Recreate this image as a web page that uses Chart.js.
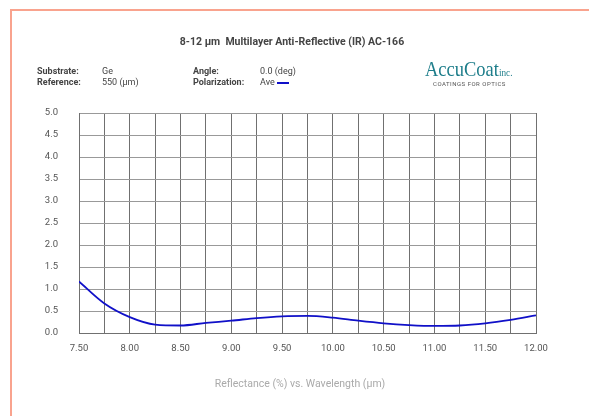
<!DOCTYPE html>
<html>
<head>
<meta charset="utf-8">
<script src="https://cdn.jsdelivr.net/npm/chart.js@4.4.1/dist/chart.umd.min.js"></script>
<style>
  html, body { margin: 0; padding: 0; background: #fff; width: 589px; height: 416px; overflow: hidden; font-family: Roboto, "Noto Sans", sans-serif; }
  #frame { position: absolute; left: 10px; top: 9px; width: 700px; height: 500px; border: 2px solid #f9a38e; box-sizing: border-box; }
  #wrap { position: absolute; left: 0; top: 0; width: 589px; height: 416px; }
  .t { position: absolute; white-space: nowrap; color: #444; font-size: 9px; }
  .b { font-weight: bold; }
  #title { position: absolute; left: 0; width: 584px; top: 35px; text-align: center; font-weight: bold; font-size: 10.5px; color: #444; }
  #xtitle { position: absolute; left: 0; width: 600px; top: 377px; text-align: center; font-size: 10.5px; color: #aaa; }
  #logo { position: absolute; left: 425px; top: 56px; font-family: "Liberation Serif", "DejaVu Serif", serif; color: #1d7d8a; font-size: 22px; white-space: nowrap; transform: scaleX(0.84); transform-origin: left top; }
  #logo small { font-size: 11px; }
  #tag { position: absolute; left: 433px; top: 80px; font-size: 6px; letter-spacing: 0.5px; color: #555; white-space: nowrap; }
  #aveline { position: absolute; left: 277px; top: 82px; width: 12px; height: 2px; background: #1010c8; }
</style>
</head>
<body>
<div id="frame"></div>
<div id="wrap"><canvas id="c" width="589" height="416"></canvas></div>
<div id="title">8-12 µm&nbsp; Multilayer Anti-Reflective (IR) AC-166</div>
<div class="t b" style="left:37px;top:66px">Substrate:</div>
<div class="t" style="left:102px;top:66px">Ge</div>
<div class="t b" style="left:37px;top:77px">Reference:</div>
<div class="t" style="left:102px;top:77px">550 (µm)</div>
<div class="t b" style="left:193px;top:66px">Angle:</div>
<div class="t" style="left:260px;top:66px">0.0 (deg)</div>
<div class="t b" style="left:193px;top:77px">Polarization:</div>
<div class="t" style="left:260px;top:77px">Ave</div>
<div id="aveline"></div>
<div id="logo">AccuCoat<small>inc.</small></div>
<div id="tag">COATINGS FOR OPTICS</div>
<div id="xtitle">Reflectance (%) vs. Wavelength (µm)</div>
<script>
const wavelengths = [7.5, 7.75, 8.0, 8.25, 8.5, 8.75, 9.0, 9.25, 9.5, 9.75, 10.0, 10.25, 10.5, 10.75, 11.0, 11.25, 11.5, 11.75, 12.0];
const reflectance = [1.17, 0.67, 0.36, 0.19, 0.17, 0.23, 0.28, 0.34, 0.38, 0.39, 0.35, 0.28, 0.22, 0.18, 0.16, 0.17, 0.22, 0.30, 0.40];
const xTicks = [7.5, 8.0, 8.5, 9.0, 9.5, 10.0, 10.5, 11.0, 11.5, 12.0];
const yTicks = [0, 0.5, 1, 1.5, 2, 2.5, 3, 3.5, 4, 4.5, 5];

const points = wavelengths.map((x, i) => ({ x: x, y: reflectance[i] }));
Chart.defaults.font.family = 'Roboto, "Noto Sans", sans-serif';

new Chart(document.getElementById('c'), {
  type: 'line',
  data: { datasets: [{ data: points, borderColor: '#1010c8', borderWidth: 1.8, pointRadius: 0, cubicInterpolationMode: 'monotone', fill: false }] },
  options: {
    responsive: false, animation: false, devicePixelRatio: 1,
    layout: { padding: { left: 0, right: 53, top: 113, bottom: 0 } },
    plugins: { legend: { display: false }, tooltip: { enabled: false } },
    scales: {
      x: {
        type: 'linear', min: 7.5, max: 12,
        afterBuildTicks: s => { const t = []; for (let v = 7.5; v <= 12.001; v += 0.25) t.push({ value: Math.round(v * 100) / 100 }); s.ticks = t; },
        ticks: { autoSkip: false, maxRotation: 0, padding: 10, color: '#555', font: { size: 9.5 },
          callback: v => (xTicks.some(t => Math.abs(t - v) < 1e-6) ? v.toFixed(2) : '') },
        grid: { color: '#707070', lineWidth: 1, drawTicks: false },
        border: { color: '#707070', width: 1 },
        afterFit: s => { s.height = 83; }
      },
      y: {
        type: 'linear', min: 0, max: 5,
        afterBuildTicks: s => { s.ticks = yTicks.map(v => ({ value: v })); },
        ticks: { padding: 21, color: '#555', font: { size: 9.5 }, callback: v => v.toFixed(1) },
        grid: { color: '#999999', lineWidth: 1, drawTicks: false },
        border: { color: '#707070', width: 1 },
        afterFit: s => { s.width = 79; }
      }
    }
  }
});
</script>
</body>
</html>
